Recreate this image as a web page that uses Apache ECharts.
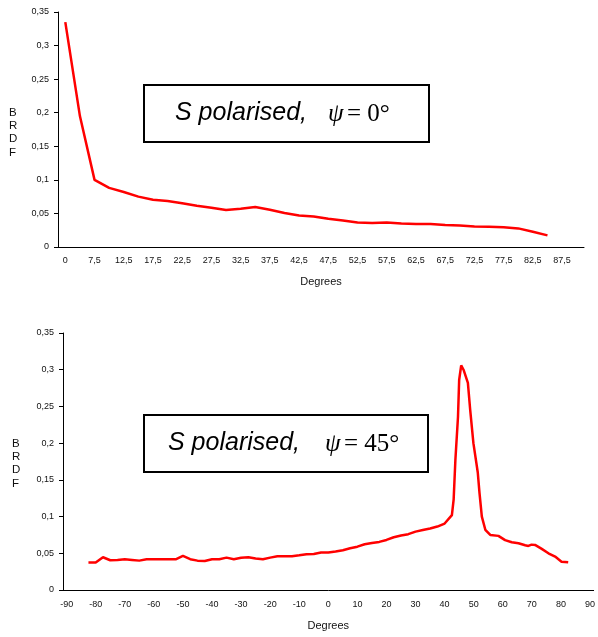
<!DOCTYPE html>
<html>
<head>
<meta charset="utf-8">
<script src="https://cdn.jsdelivr.net/npm/echarts@6/dist/echarts.min.js"></script>
<style>
  html, body { margin: 0; padding: 0; background: #fff; }
  #chart { width: 598px; height: 637px; }
</style>
</head>
<body>
<div id="chart"></div>
<script>
// top chart: psi = 0, category axis (0, 5, 7.5 ... 90)
const topDegrees = [0, 5, 7.5, 10, 12.5, 15, 17.5, 20, 22.5, 25, 27.5, 30, 32.5, 35, 37.5, 40, 42.5, 45,
  47.5, 50, 52.5, 55, 57.5, 60, 62.5, 65, 67.5, 70, 72.5, 75, 77.5, 80, 82.5, 85, 87.5, 90];
const topBRDF = [0.335, 0.195, 0.1, 0.088, 0.082, 0.075, 0.0704, 0.0684, 0.065, 0.0614, 0.0585, 0.055,
  0.057, 0.0595, 0.0555, 0.0506, 0.047, 0.0455, 0.042, 0.0396, 0.0366, 0.0357, 0.0366, 0.035,
  0.0342, 0.0342, 0.0327, 0.0322, 0.0307, 0.0302, 0.0295, 0.0277, 0.0228, 0.0173, null, null];

// bottom chart: psi = 45
const bottomDegrees = [-82.5, -80, -77.5, -75, -72.5, -70, -67.5, -65, -62.5, -60, -57.5, -55, -52.5,
  -50, -47.5, -45, -42.5, -40, -37.5, -35, -32.5, -30, -27.5, -25, -22.5, -20, -17.5, -15, -12.5,
  -10, -7.5, -5, -2.5, 0, 2.5, 5, 7.5, 10, 12.5, 15, 17.5, 20, 22.5, 25, 27.5, 30, 32.5, 35, 37.5,
  40, 42.5, 43.1, 43.7, 44.6, 45.0, 45.7, 46.5, 48.0, 48.8, 49.9, 51.4, 52.0, 52.8, 54.0, 55.7,
  58.5, 60.8, 63.1, 65.4, 67.7, 68.8, 69.9, 71.1, 73.4, 75.7, 78, 80.2, 82.5];
const bottomBRDF = [0.0373, 0.0373, 0.0446, 0.0405, 0.041, 0.0418, 0.041, 0.040, 0.0418, 0.0418,
  0.0418, 0.0418, 0.0418, 0.0464, 0.042, 0.040, 0.0396, 0.0418, 0.0418, 0.0441, 0.042, 0.044,
  0.0446, 0.043, 0.0418, 0.0441, 0.046, 0.046, 0.046, 0.0473, 0.0487, 0.049, 0.051, 0.051,
  0.0523, 0.0541, 0.0569, 0.059, 0.0623, 0.0641, 0.0655, 0.0682, 0.0719, 0.0741, 0.076, 0.0795,
  0.0816, 0.0837, 0.0864, 0.0905, 0.102, 0.123, 0.177, 0.236, 0.286, 0.306, 0.30, 0.282, 0.245,
  0.2, 0.16, 0.132, 0.10, 0.082, 0.075, 0.0737, 0.068, 0.065, 0.0637, 0.061, 0.060, 0.0618,
  0.0614, 0.056, 0.050, 0.0455, 0.0386, 0.0377];

// bottom axis categories, -90 .. 90 every 2.5
const bottomTicks = [];
for (let d = -90; d <= 90; d += 2.5) bottomTicks.push(d);

const comma = v => String(parseFloat(Number(v).toFixed(3))).replace('.', ',');

const font = '"Liberation Sans", Arial, sans-serif';
const serif = '"Liberation Serif", "Times New Roman", serif';
const tickText = { color: '#111', fontSize: 9, fontFamily: font };

function yAxisFor(gridIndex) {
  return {
    type: 'value', gridIndex: gridIndex, min: 0, max: 0.35, interval: 0.05,
    axisLine: { show: true, onZero: false, lineStyle: { color: '#000', width: 1 } },
    axisTick: { show: true, length: 4, lineStyle: { color: '#000' } },
    axisLabel: Object.assign({ margin: 9, formatter: comma }, tickText),
    splitLine: { show: false }
  };
}

const chart = echarts.init(document.getElementById('chart'));
chart.setOption({
  animation: false,
  backgroundColor: '#fff',
  grid: [
    { left: 58, top: 12, width: 526, height: 235 },
    { left: 63, top: 333, width: 532, height: 257 }
  ],
  xAxis: [
    {
      type: 'category', gridIndex: 0, data: topDegrees.map(comma), boundaryGap: true,
      name: 'Degrees', nameLocation: 'middle', nameGap: 29,
      nameTextStyle: { color: '#111', fontSize: 11, fontFamily: font },
      axisLine: { onZero: false, lineStyle: { color: '#000', width: 1 } },
      axisTick: { interval: 0, length: 4, lineStyle: { color: '#000' } },
      axisLabel: Object.assign({ interval: 1, margin: 9 }, tickText)
    },
    {
      type: 'category', gridIndex: 1, data: bottomTicks.map(comma), boundaryGap: true,
      name: 'Degrees', nameLocation: 'middle', nameGap: 30,
      nameTextStyle: { color: '#111', fontSize: 11, fontFamily: font },
      axisLine: { onZero: false, lineStyle: { color: '#000', width: 1 } },
      axisTick: { interval: 0, length: 4, lineStyle: { color: '#000' } },
      axisLabel: Object.assign({ interval: 3, margin: 10 }, tickText)
    },
    {
      // hidden value axis lined up with the category centres above
      type: 'value', gridIndex: 1, min: -91.25, max: 91.25, show: false,
      axisLine: { onZero: false }
    }
  ],
  yAxis: [yAxisFor(0), yAxisFor(1)],
  series: [
    {
      type: 'line', xAxisIndex: 0, yAxisIndex: 0, data: topBRDF,
      showSymbol: false, lineStyle: { color: '#ff0000', width: 2.5 }
    },
    {
      type: 'line', xAxisIndex: 2, yAxisIndex: 1,
      data: bottomDegrees.map((d, i) => [d, bottomBRDF[i]]),
      showSymbol: false, lineStyle: { color: '#ff0000', width: 2.5 }
    }
  ],
  graphic: [
    { type: 'text', x: 9, y: 106, style: { text: 'B\nR\nD\nF', font: '11.5px ' + font, fill: '#111', lineHeight: 13.3 } },
    { type: 'text', x: 12, y: 437, style: { text: 'B\nR\nD\nF', font: '11.5px ' + font, fill: '#111', lineHeight: 13.3 } },

    { type: 'rect', shape: { x: 144, y: 85, width: 285, height: 57 }, style: { fill: '#fff', stroke: '#000', lineWidth: 2 } },
    { type: 'text', x: 175, y: 113, style: { text: 'S polarised,', font: 'italic 25px ' + font, fill: '#000', verticalAlign: 'middle' } },
    { type: 'text', x: 328, y: 114, style: { text: 'ψ', font: 'italic 25px ' + serif, fill: '#000', verticalAlign: 'middle' } },
    { type: 'text', x: 347, y: 114, style: { text: '= 0°', font: '25px ' + serif, fill: '#000', verticalAlign: 'middle' } },

    { type: 'rect', shape: { x: 144, y: 415, width: 284, height: 57 }, style: { fill: '#fff', stroke: '#000', lineWidth: 2 } },
    { type: 'text', x: 168, y: 443, style: { text: 'S polarised,', font: 'italic 25px ' + font, fill: '#000', verticalAlign: 'middle' } },
    { type: 'text', x: 325, y: 444, style: { text: 'ψ', font: 'italic 25px ' + serif, fill: '#000', verticalAlign: 'middle' } },
    { type: 'text', x: 344, y: 444, style: { text: '= 45°', font: '25px ' + serif, fill: '#000', verticalAlign: 'middle' } }
  ]
});
</script>
</body>
</html>
